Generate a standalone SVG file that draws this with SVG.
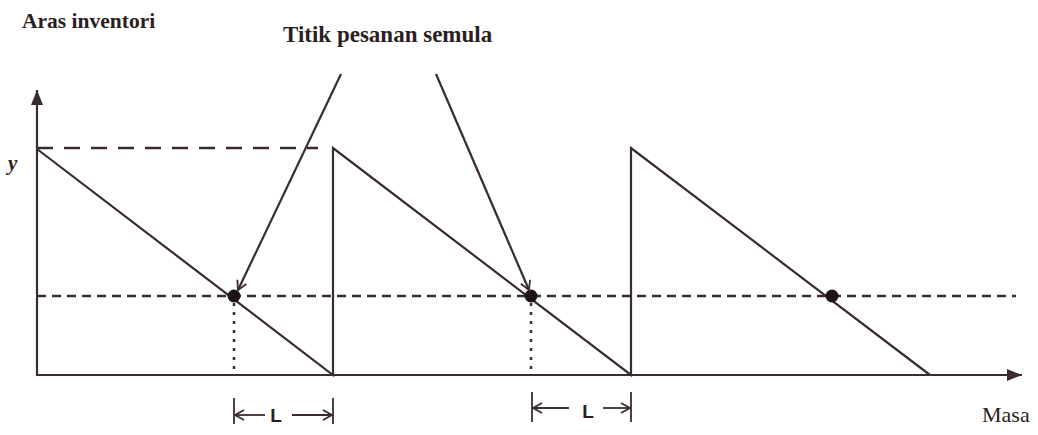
<svg xmlns="http://www.w3.org/2000/svg" width="1038" height="435" viewBox="0 0 1038 435">
<style>
.ln{stroke:#3a2c2e;stroke-width:2.2;fill:none}
.dash{stroke:#3a2c2e;stroke-width:2.5;fill:none;stroke-dasharray:9,6}
.dashl{stroke:#3a2c2e;stroke-width:2.5;fill:none;stroke-dasharray:16,11}
.dot{stroke:#3a2c2e;stroke-width:2.5;fill:none;stroke-dasharray:3,6}
.sm{stroke:#3a2c2e;stroke-width:1.8;fill:none}
.t{font-family:"Liberation Serif",serif;font-weight:bold;fill:#2a1e20}
.lt{font-family:"Liberation Sans",sans-serif;font-weight:bold;font-size:19px;fill:#2a1e20}
</style>
<defs>
<marker id="ah" markerWidth="16" markerHeight="14" refX="15" refY="7" orient="auto" markerUnits="userSpaceOnUse">
<path d="M0,1 L15,7 L0,13 Z" fill="#3a2c2e"/>
</marker>
<marker id="oh" markerWidth="12" markerHeight="12" refX="10" refY="6" orient="auto" markerUnits="userSpaceOnUse">
<path d="M1,1 L10,6 L1,11" fill="none" stroke="#3a2c2e" stroke-width="1.8"/>
</marker>
</defs>
<rect width="1038" height="435" fill="#ffffff"/>
<g id="axes">
<line class="ln" x1="37" y1="376" x2="37" y2="90" marker-end="url(#ah)"/>
<line class="ln" x1="37" y1="375" x2="1022" y2="375" marker-end="url(#ah)"/>
</g>
<g id="guides">
<line class="dashl" x1="37" y1="148" x2="318" y2="148"/>
<line class="dash" x1="37" y1="296" x2="1016" y2="296"/>
<line class="dot" x1="234" y1="303" x2="234" y2="375"/>
<line class="dot" x1="531" y1="303" x2="531" y2="375"/>
</g>
<g id="sawtooth">
<polyline class="ln" points="37,149 333,375 333,148 631,375 631,148 930,375"/>
</g>
<g id="points">
<circle cx="234" cy="296" r="6.5" fill="#1e1416"/>
<circle cx="531" cy="296" r="6.5" fill="#1e1416"/>
<circle cx="832" cy="296" r="6.5" fill="#1e1416"/>
</g>
<g id="connectors">
<line class="ln" x1="341" y1="74" x2="238" y2="290" marker-end="url(#oh)"/>
<line class="ln" x1="436" y1="74" x2="529" y2="290" marker-end="url(#oh)"/>
</g>
<g id="lead1">
<line class="sm" x1="234" y1="398" x2="234" y2="424"/>
<line class="sm" x1="333" y1="398" x2="333" y2="424"/>
<line class="sm" x1="265" y1="415" x2="235" y2="415" marker-end="url(#oh)"/>
<line class="sm" x1="292" y1="415" x2="332" y2="415" marker-end="url(#oh)"/>
<text class="lt" x="276" y="422" text-anchor="middle">L</text>
</g>
<g id="lead2">
<line class="sm" x1="532" y1="392" x2="532" y2="422"/>
<line class="sm" x1="631" y1="392" x2="631" y2="422"/>
<line class="sm" x1="569" y1="408" x2="533" y2="408" marker-end="url(#oh)"/>
<line class="sm" x1="603" y1="408" x2="630" y2="408" marker-end="url(#oh)"/>
<text class="lt" x="588" y="418" text-anchor="middle">L</text>
</g>
<g id="labels">
<text class="t" x="22" y="28" style="font-size:21.5px">Aras inventori</text>
<text class="t" x="283" y="42" style="font-size:23px">Titik pesanan semula</text>
<text x="8" y="170" style="font-family:'Liberation Serif',serif;font-weight:bold;font-style:italic;font-size:21px;fill:#2a1e20">y</text>
<text x="982" y="422" style="font-family:'Liberation Serif',serif;font-size:22px;fill:#2a1e20">Masa</text>
</g>
</svg>
